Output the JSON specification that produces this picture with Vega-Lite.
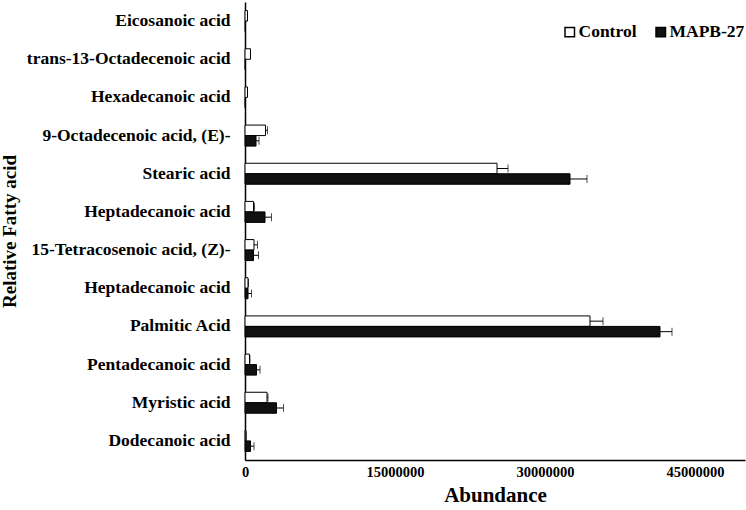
{
  "$schema": "https://vega.github.io/schema/vega-lite/v6.json",
  "width": 500,
  "height": 458,
  "autosize": {"type": "none"},
  "padding": {"left": 245, "top": 2, "right": 1, "bottom": 50},
  "background": "white",
  "config": {"view": {"stroke": null}, "font": "Liberation Serif"},
  "data": {
    "values": [
      {"acid": "Eicosanoic acid", "group": "Control", "value": 250000, "upper": 250000},
      {"acid": "Eicosanoic acid", "group": "MAPB-27", "value": 50000, "upper": 50000},
      {"acid": "trans-13-Octadecenoic acid", "group": "Control", "value": 550000, "upper": 550000},
      {"acid": "trans-13-Octadecenoic acid", "group": "MAPB-27", "value": 40000, "upper": 40000},
      {"acid": "Hexadecanoic acid", "group": "Control", "value": 250000, "upper": 250000},
      {"acid": "Hexadecanoic acid", "group": "MAPB-27", "value": 40000, "upper": 40000},
      {"acid": "9-Octadecenoic acid, (E)-", "group": "Control", "value": 2050000, "upper": 2250000},
      {"acid": "9-Octadecenoic acid, (E)-", "group": "MAPB-27", "value": 1100000, "upper": 1400000},
      {"acid": "Stearic acid", "group": "Control", "value": 25200000, "upper": 26300000},
      {"acid": "Stearic acid", "group": "MAPB-27", "value": 32500000, "upper": 34200000},
      {"acid": "Heptadecanoic acid", "group": "Control", "value": 850000, "upper": 950000},
      {"acid": "Heptadecanoic acid", "group": "MAPB-27", "value": 2000000, "upper": 2650000},
      {"acid": "15-Tetracosenoic acid, (Z)-", "group": "Control", "value": 900000, "upper": 1250000},
      {"acid": "15-Tetracosenoic acid, (Z)-", "group": "MAPB-27", "value": 850000, "upper": 1350000},
      {"acid": "Heptadecanoic acid ", "group": "Control", "value": 300000, "upper": 350000},
      {"acid": "Heptadecanoic acid ", "group": "MAPB-27", "value": 300000, "upper": 650000},
      {"acid": "Palmitic Acid", "group": "Control", "value": 34500000, "upper": 35800000},
      {"acid": "Palmitic Acid", "group": "MAPB-27", "value": 41500000, "upper": 42700000},
      {"acid": "Pentadecanoic acid", "group": "Control", "value": 450000, "upper": 500000},
      {"acid": "Pentadecanoic acid", "group": "MAPB-27", "value": 1150000, "upper": 1500000},
      {"acid": "Myristic acid", "group": "Control", "value": 2200000, "upper": 2300000},
      {"acid": "Myristic acid", "group": "MAPB-27", "value": 3150000, "upper": 3850000},
      {"acid": "Dodecanoic acid", "group": "Control", "value": 100000, "upper": 100000},
      {"acid": "Dodecanoic acid", "group": "MAPB-27", "value": 550000, "upper": 900000}
    ]
  },
  "encoding": {
    "y": {
      "field": "acid",
      "type": "nominal",
      "sort": null,
      "scale": {"paddingInner": 0.45, "paddingOuter": 0.225},
      "axis": {
        "title": "Relative Fatty acid",
        "titleFontSize": 19,
        "titleFontWeight": "bold",
        "titleColor": "black",
        "titleX": -236,
        "titleY": 229,
        "titleAngle": -90,
        "titleAlign": "center",
        "titleBaseline": "middle",
        "labelFontSize": 17.5,
        "labelFontWeight": "bold",
        "labelColor": "black",
        "labelLimit": 0,
        "labelPadding": 15,
        "ticks": false,
        "domainColor": "black",
        "domainWidth": 1.5
      }
    },
    "yOffset": {"field": "group", "sort": ["Control", "MAPB-27"], "scale": {"paddingInner": 0}}
  },
  "layer": [
    {
      "mark": {"type": "bar", "stroke": "black", "strokeWidth": 1},
      "encoding": {
        "x": {
          "field": "value",
          "type": "quantitative",
          "scale": {"domain": [0, 50000000], "nice": false},
          "axis": {
            "values": [0, 15000000, 30000000, 45000000],
            "format": "d",
            "grid": false,
            "ticks": false,
            "labelPadding": 5,
            "labelFontSize": 14.5,
            "labelFontWeight": "bold",
            "labelColor": "black",
            "labelFlush": false,
            "title": "Abundance",
            "titleFontSize": 21,
            "titleFontWeight": "bold",
            "titleColor": "black",
            "titlePadding": 6,
            "domainColor": "black",
            "domainWidth": 1.5
          }
        },
        "fill": {
          "field": "group",
          "type": "nominal",
          "scale": {"domain": ["Control", "MAPB-27"], "range": ["white", "#111111"]},
          "legend": {
            "orient": "none",
            "legendX": 316,
            "legendY": 21,
            "direction": "horizontal",
            "title": null,
            "symbolType": "square",
            "symbolSize": 90,
            "symbolStrokeColor": "black",
            "symbolStrokeWidth": 1.5,
            "labelFontSize": 17.5,
            "labelFontWeight": "bold",
            "labelColor": "black",
            "labelOffset": 0,
            "columnPadding": 15
          }
        }
      }
    },
    {
      "mark": {"type": "rule", "stroke": "black", "strokeWidth": 1},
      "encoding": {
        "x": {"field": "value", "type": "quantitative"},
        "x2": {"field": "upper"}
      }
    },
    {
      "mark": {"type": "tick", "orient": "vertical", "color": "black", "size": 8, "thickness": 1},
      "encoding": {
        "x": {"field": "upper", "type": "quantitative"}
      }
    }
  ]
}
